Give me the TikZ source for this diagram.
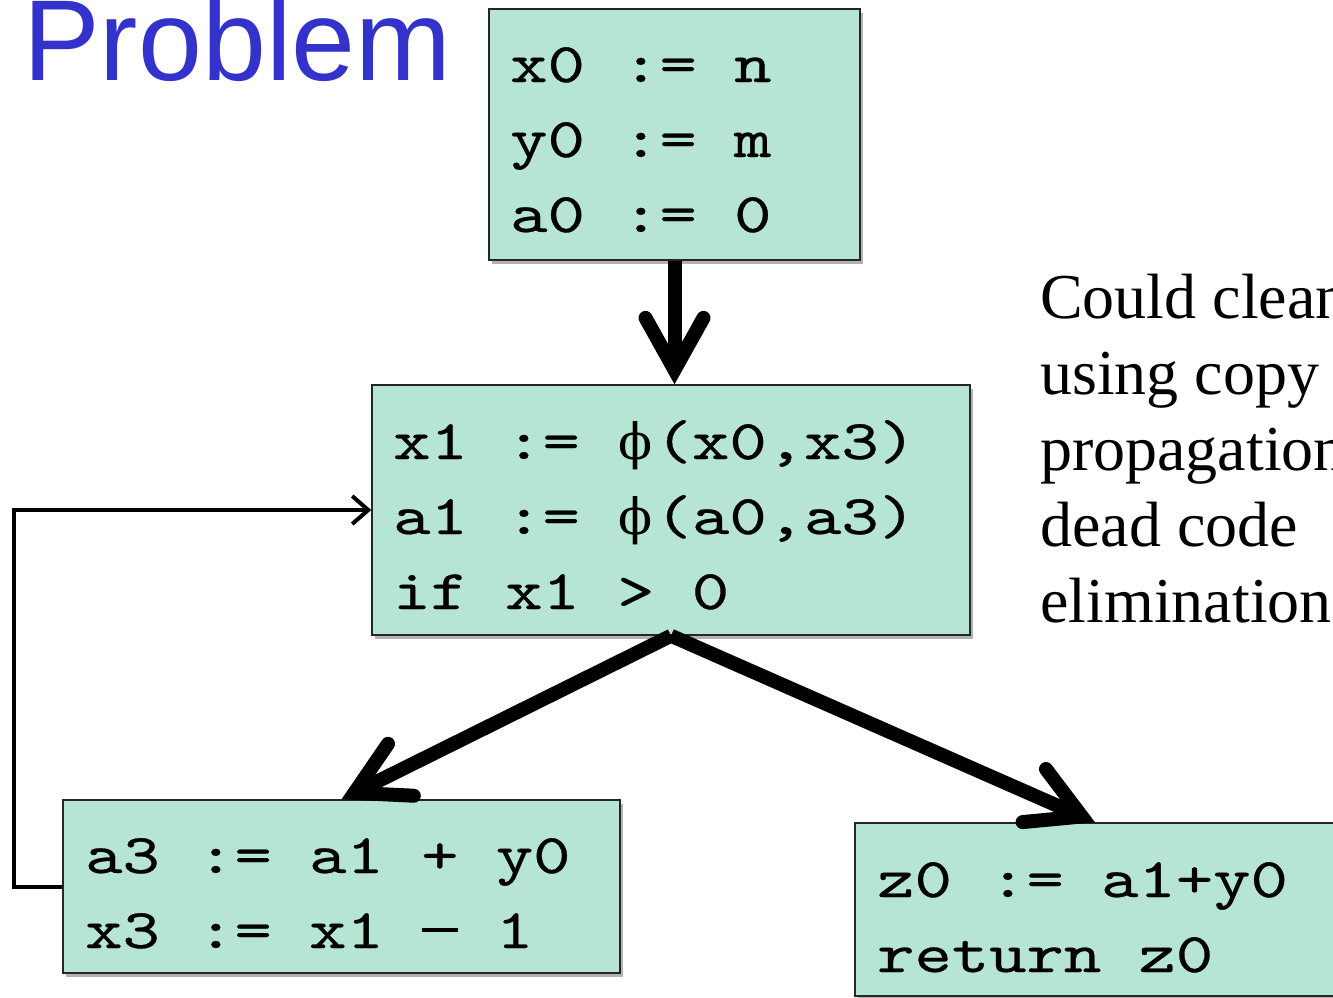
\documentclass[tikz,border=0pt]{standalone}
\usepackage{fontspec}
\newfontfamily\titlefont{Liberation Sans}
\newfontfamily\notefont{Liberation Serif}
\newfontfamily\codefont{lmmono10-regular.otf}[FakeStretch=1.27,FakeBold=0.5]
\newfontfamily\phifont{DejaVu Serif}
\usetikzlibrary{arrows.meta,shadows}
\definecolor{blockgreen}{RGB}{182,229,212}
\definecolor{titleblue}{RGB}{51,51,204}
\newcommand{\phibox}{\makebox[37.5pt]{\phifont\fontsize{50}{75}\selectfont ϕ}}
\newcommand{\minusbox}{\makebox[37.5pt]{\rule[16pt]{36pt}{4pt}}}
\begin{document}
\begin{tikzpicture}[x=1pt,y=-1pt,
  block/.style={draw=black!85, line width=1.5pt, fill=blockgreen,
    drop shadow={shadow xshift=3pt, shadow yshift=-4pt, opacity=0.3, fill=black}},
  code/.style={font=\codefont\fontsize{56}{75}\selectfont, anchor=base west, inner sep=0pt, align=left},
  flow/.style={line width=14pt, -{Straight Barb[length=52pt,width=58pt,line cap=round]}},
  back/.style={line width=4pt, -{Straight Barb[length=16pt,width=28pt]}}]
\useasboundingbox (0,0) rectangle (1333,998);
\clip (0,0) rectangle (1333,998);

\node[anchor=base west, inner sep=0pt, text=titleblue,
  font=\titlefont\fontsize{115}{120}\selectfont] (title) at (23,81) {Problem};

% blocks (code nodes sit on the baseline of their last line)
\node[block, minimum width=371pt, minimum height=251pt] (entry) at (674.5,134.5) {};
\node[code] (entrycode) at (510,232) {x0 := n\\y0 := m\\a0 := 0};

\node[block, minimum width=598pt, minimum height=250pt] (head) at (671,510) {};
\node[code] (headcode) at (393,609) {x1 := \phibox(x0,x3)\\a1 := \phibox(a0,a3)\\if x1 > 0};

\node[block, minimum width=557pt, minimum height=173pt] (body) at (341.5,886.5) {};
\node[code] (bodycode) at (85,948) {a3 := a1 + y0\\x3 := x1 \minusbox{} 1};

\node[block, minimum width=480pt, minimum height=173pt] (exit) at (1095,909.5) {};
\node[code] (exitcode) at (877,972) {z0 := a1+y0\\return z0};

\node[anchor=base west, inner sep=0pt, align=left,
  font=\notefont\fontsize{64}{76}\selectfont] (note) at (1040,622)
  {Could clean\\using copy\\propagation\\dead code\\elimination};

% edges
\draw[flow] (entry.south) -- (entry.south |- head.north);
\draw[flow] (head.south) -- (body.north);
\draw[flow] (head.south) -- (exit.north);
\draw[back] (body.west) -- ++(-48,0) |- (head.west);
\end{tikzpicture}
\end{document}
